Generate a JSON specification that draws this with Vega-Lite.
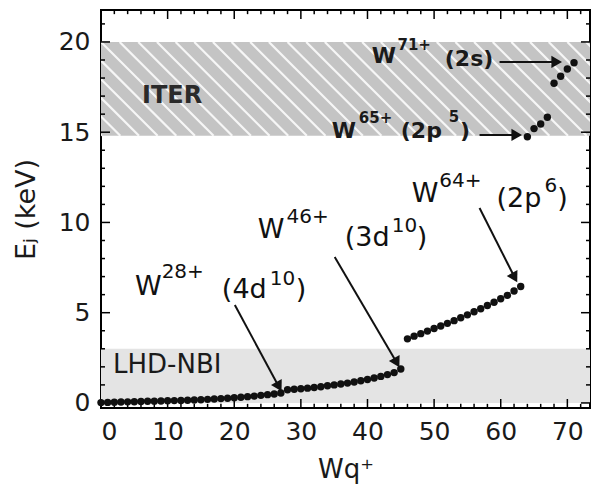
{
  "$schema": "https://vega.github.io/schema/vega-lite/v6.json",
  "width": 489,
  "height": 398,
  "autosize": {"type": "none"},
  "padding": {"left": 101, "top": 10, "right": 3, "bottom": 81},
  "background": "white",
  "config": {
    "view": {"stroke": "black", "strokeWidth": 2}
  },
  "datasets": {
    "bands": [
      {"b": "LHD", "x0": 0, "x1": 73.4, "y0": 0, "y1": 3},
      {"b": "ITER", "x0": 0, "x1": 73.4, "y0": 14.8, "y1": 20}
    ],
    "ticks": [
      {"a": 0, "b": 0, "c": -0.28, "d": 0.22}, {"a": 2, "b": 2, "c": -0.28, "d": -0.05}, {"a": 4, "b": 4, "c": -0.28, "d": -0.05}, {"a": 6, "b": 6, "c": -0.28, "d": -0.05}, {"a": 8, "b": 8, "c": -0.28, "d": -0.05},
      {"a": 10, "b": 10, "c": -0.28, "d": 0.22}, {"a": 12, "b": 12, "c": -0.28, "d": -0.05}, {"a": 14, "b": 14, "c": -0.28, "d": -0.05}, {"a": 16, "b": 16, "c": -0.28, "d": -0.05}, {"a": 18, "b": 18, "c": -0.28, "d": -0.05},
      {"a": 20, "b": 20, "c": -0.28, "d": 0.22}, {"a": 22, "b": 22, "c": -0.28, "d": -0.05}, {"a": 24, "b": 24, "c": -0.28, "d": -0.05}, {"a": 26, "b": 26, "c": -0.28, "d": -0.05}, {"a": 28, "b": 28, "c": -0.28, "d": -0.05},
      {"a": 30, "b": 30, "c": -0.28, "d": 0.22}, {"a": 32, "b": 32, "c": -0.28, "d": -0.05}, {"a": 34, "b": 34, "c": -0.28, "d": -0.05}, {"a": 36, "b": 36, "c": -0.28, "d": -0.05}, {"a": 38, "b": 38, "c": -0.28, "d": -0.05},
      {"a": 40, "b": 40, "c": -0.28, "d": 0.22}, {"a": 42, "b": 42, "c": -0.28, "d": -0.05}, {"a": 44, "b": 44, "c": -0.28, "d": -0.05}, {"a": 46, "b": 46, "c": -0.28, "d": -0.05}, {"a": 48, "b": 48, "c": -0.28, "d": -0.05},
      {"a": 50, "b": 50, "c": -0.28, "d": 0.22}, {"a": 52, "b": 52, "c": -0.28, "d": -0.05}, {"a": 54, "b": 54, "c": -0.28, "d": -0.05}, {"a": 56, "b": 56, "c": -0.28, "d": -0.05}, {"a": 58, "b": 58, "c": -0.28, "d": -0.05},
      {"a": 60, "b": 60, "c": -0.28, "d": 0.22}, {"a": 62, "b": 62, "c": -0.28, "d": -0.05}, {"a": 64, "b": 64, "c": -0.28, "d": -0.05}, {"a": 66, "b": 66, "c": -0.28, "d": -0.05}, {"a": 68, "b": 68, "c": -0.28, "d": -0.05},
      {"a": 70, "b": 70, "c": -0.28, "d": 0.22}, {"a": 72, "b": 72, "c": -0.28, "d": -0.05},
      {"a": 0, "b": 0, "c": 21.77, "d": 21.27}, {"a": 2, "b": 2, "c": 21.77, "d": 21.54}, {"a": 4, "b": 4, "c": 21.77, "d": 21.54}, {"a": 6, "b": 6, "c": 21.77, "d": 21.54}, {"a": 8, "b": 8, "c": 21.77, "d": 21.54},
      {"a": 10, "b": 10, "c": 21.77, "d": 21.27}, {"a": 12, "b": 12, "c": 21.77, "d": 21.54}, {"a": 14, "b": 14, "c": 21.77, "d": 21.54}, {"a": 16, "b": 16, "c": 21.77, "d": 21.54}, {"a": 18, "b": 18, "c": 21.77, "d": 21.54},
      {"a": 20, "b": 20, "c": 21.77, "d": 21.27}, {"a": 22, "b": 22, "c": 21.77, "d": 21.54}, {"a": 24, "b": 24, "c": 21.77, "d": 21.54}, {"a": 26, "b": 26, "c": 21.77, "d": 21.54}, {"a": 28, "b": 28, "c": 21.77, "d": 21.54},
      {"a": 30, "b": 30, "c": 21.77, "d": 21.27}, {"a": 32, "b": 32, "c": 21.77, "d": 21.54}, {"a": 34, "b": 34, "c": 21.77, "d": 21.54}, {"a": 36, "b": 36, "c": 21.77, "d": 21.54}, {"a": 38, "b": 38, "c": 21.77, "d": 21.54},
      {"a": 40, "b": 40, "c": 21.77, "d": 21.27}, {"a": 42, "b": 42, "c": 21.77, "d": 21.54}, {"a": 44, "b": 44, "c": 21.77, "d": 21.54}, {"a": 46, "b": 46, "c": 21.77, "d": 21.54}, {"a": 48, "b": 48, "c": 21.77, "d": 21.54},
      {"a": 50, "b": 50, "c": 21.77, "d": 21.27}, {"a": 52, "b": 52, "c": 21.77, "d": 21.54}, {"a": 54, "b": 54, "c": 21.77, "d": 21.54}, {"a": 56, "b": 56, "c": 21.77, "d": 21.54}, {"a": 58, "b": 58, "c": 21.77, "d": 21.54},
      {"a": 60, "b": 60, "c": 21.77, "d": 21.27}, {"a": 62, "b": 62, "c": 21.77, "d": 21.54}, {"a": 64, "b": 64, "c": 21.77, "d": 21.54}, {"a": 66, "b": 66, "c": 21.77, "d": 21.54}, {"a": 68, "b": 68, "c": 21.77, "d": 21.54},
      {"a": 70, "b": 70, "c": 21.77, "d": 21.27}, {"a": 72, "b": 72, "c": 21.77, "d": 21.54},
      {"a": 0, "b": 1.35, "c": 0, "d": 0}, {"a": 0, "b": 0.6, "c": 1, "d": 1}, {"a": 0, "b": 0.6, "c": 2, "d": 2}, {"a": 0, "b": 0.6, "c": 3, "d": 3}, {"a": 0, "b": 0.6, "c": 4, "d": 4},
      {"a": 0, "b": 1.35, "c": 5, "d": 5}, {"a": 0, "b": 0.6, "c": 6, "d": 6}, {"a": 0, "b": 0.6, "c": 7, "d": 7}, {"a": 0, "b": 0.6, "c": 8, "d": 8}, {"a": 0, "b": 0.6, "c": 9, "d": 9},
      {"a": 0, "b": 1.35, "c": 10, "d": 10}, {"a": 0, "b": 0.6, "c": 11, "d": 11}, {"a": 0, "b": 0.6, "c": 12, "d": 12}, {"a": 0, "b": 0.6, "c": 13, "d": 13}, {"a": 0, "b": 0.6, "c": 14, "d": 14},
      {"a": 0, "b": 1.35, "c": 15, "d": 15}, {"a": 0, "b": 0.6, "c": 16, "d": 16}, {"a": 0, "b": 0.6, "c": 17, "d": 17}, {"a": 0, "b": 0.6, "c": 18, "d": 18}, {"a": 0, "b": 0.6, "c": 19, "d": 19},
      {"a": 0, "b": 1.35, "c": 20, "d": 20}, {"a": 0, "b": 0.6, "c": 21, "d": 21},
      {"a": 73.4, "b": 72.05, "c": 0, "d": 0}, {"a": 73.4, "b": 72.8, "c": 1, "d": 1}, {"a": 73.4, "b": 72.8, "c": 2, "d": 2}, {"a": 73.4, "b": 72.8, "c": 3, "d": 3}, {"a": 73.4, "b": 72.8, "c": 4, "d": 4},
      {"a": 73.4, "b": 72.05, "c": 5, "d": 5}, {"a": 73.4, "b": 72.8, "c": 6, "d": 6}, {"a": 73.4, "b": 72.8, "c": 7, "d": 7}, {"a": 73.4, "b": 72.8, "c": 8, "d": 8}, {"a": 73.4, "b": 72.8, "c": 9, "d": 9},
      {"a": 73.4, "b": 72.05, "c": 10, "d": 10}, {"a": 73.4, "b": 72.8, "c": 11, "d": 11}, {"a": 73.4, "b": 72.8, "c": 12, "d": 12}, {"a": 73.4, "b": 72.8, "c": 13, "d": 13}, {"a": 73.4, "b": 72.8, "c": 14, "d": 14},
      {"a": 73.4, "b": 72.05, "c": 15, "d": 15}, {"a": 73.4, "b": 72.8, "c": 16, "d": 16}, {"a": 73.4, "b": 72.8, "c": 17, "d": 17}, {"a": 73.4, "b": 72.8, "c": 18, "d": 18}, {"a": 73.4, "b": 72.8, "c": 19, "d": 19},
      {"a": 73.4, "b": 72.05, "c": 20, "d": 20}, {"a": 73.4, "b": 72.8, "c": 21, "d": 21}
    ],
    "hatch": [
      {"hx": -14, "hx2": 0.1, "hy": 20, "hy2": 14.8},
      {"hx": -11.2, "hx2": 2.9, "hy": 20, "hy2": 14.8},
      {"hx": -8.4, "hx2": 5.7, "hy": 20, "hy2": 14.8},
      {"hx": -5.6, "hx2": 8.5, "hy": 20, "hy2": 14.8},
      {"hx": -2.8, "hx2": 11.3, "hy": 20, "hy2": 14.8},
      {"hx": 0, "hx2": 14.1, "hy": 20, "hy2": 14.8},
      {"hx": 2.8, "hx2": 16.9, "hy": 20, "hy2": 14.8},
      {"hx": 5.6, "hx2": 19.7, "hy": 20, "hy2": 14.8},
      {"hx": 8.4, "hx2": 22.5, "hy": 20, "hy2": 14.8},
      {"hx": 11.2, "hx2": 25.3, "hy": 20, "hy2": 14.8},
      {"hx": 14, "hx2": 28.1, "hy": 20, "hy2": 14.8},
      {"hx": 16.8, "hx2": 30.9, "hy": 20, "hy2": 14.8},
      {"hx": 19.6, "hx2": 33.7, "hy": 20, "hy2": 14.8},
      {"hx": 22.4, "hx2": 36.5, "hy": 20, "hy2": 14.8},
      {"hx": 25.2, "hx2": 39.3, "hy": 20, "hy2": 14.8},
      {"hx": 28, "hx2": 42.1, "hy": 20, "hy2": 14.8},
      {"hx": 30.8, "hx2": 44.9, "hy": 20, "hy2": 14.8},
      {"hx": 33.6, "hx2": 47.7, "hy": 20, "hy2": 14.8},
      {"hx": 36.4, "hx2": 50.5, "hy": 20, "hy2": 14.8},
      {"hx": 39.2, "hx2": 53.3, "hy": 20, "hy2": 14.8},
      {"hx": 42, "hx2": 56.1, "hy": 20, "hy2": 14.8},
      {"hx": 44.8, "hx2": 58.9, "hy": 20, "hy2": 14.8},
      {"hx": 47.6, "hx2": 61.7, "hy": 20, "hy2": 14.8},
      {"hx": 50.4, "hx2": 64.5, "hy": 20, "hy2": 14.8},
      {"hx": 53.2, "hx2": 67.3, "hy": 20, "hy2": 14.8},
      {"hx": 56, "hx2": 70.1, "hy": 20, "hy2": 14.8},
      {"hx": 58.8, "hx2": 72.9, "hy": 20, "hy2": 14.8},
      {"hx": 61.6, "hx2": 75.7, "hy": 20, "hy2": 14.8},
      {"hx": 64.4, "hx2": 78.5, "hy": 20, "hy2": 14.8},
      {"hx": 67.2, "hx2": 81.3, "hy": 20, "hy2": 14.8},
      {"hx": 70, "hx2": 84.1, "hy": 20, "hy2": 14.8},
      {"hx": 72.8, "hx2": 86.9, "hy": 20, "hy2": 14.8}
    ],
    "points": [
      {"q": 0, "e": 0.02}, {"q": 1, "e": 0.03}, {"q": 2, "e": 0.04}, {"q": 3, "e": 0.05},
      {"q": 4, "e": 0.06}, {"q": 5, "e": 0.07}, {"q": 6, "e": 0.08}, {"q": 7, "e": 0.09},
      {"q": 8, "e": 0.1}, {"q": 9, "e": 0.11}, {"q": 10, "e": 0.12}, {"q": 11, "e": 0.13},
      {"q": 12, "e": 0.14}, {"q": 13, "e": 0.15}, {"q": 14, "e": 0.16}, {"q": 15, "e": 0.18},
      {"q": 16, "e": 0.2}, {"q": 17, "e": 0.22}, {"q": 18, "e": 0.24}, {"q": 19, "e": 0.26},
      {"q": 20, "e": 0.29}, {"q": 21, "e": 0.32}, {"q": 22, "e": 0.35}, {"q": 23, "e": 0.38},
      {"q": 24, "e": 0.42}, {"q": 25, "e": 0.46}, {"q": 26, "e": 0.5}, {"q": 27, "e": 0.55},
      {"q": 28, "e": 0.73}, {"q": 29, "e": 0.76}, {"q": 30, "e": 0.79}, {"q": 31, "e": 0.82},
      {"q": 32, "e": 0.86}, {"q": 33, "e": 0.9}, {"q": 34, "e": 0.95}, {"q": 35, "e": 1.0},
      {"q": 36, "e": 1.05}, {"q": 37, "e": 1.1}, {"q": 38, "e": 1.16}, {"q": 39, "e": 1.23},
      {"q": 40, "e": 1.3}, {"q": 41, "e": 1.38}, {"q": 42, "e": 1.47}, {"q": 43, "e": 1.57},
      {"q": 44, "e": 1.68}, {"q": 45, "e": 1.88},
      {"q": 46, "e": 3.55}, {"q": 47, "e": 3.7}, {"q": 48, "e": 3.84}, {"q": 49, "e": 3.98},
      {"q": 50, "e": 4.12}, {"q": 51, "e": 4.26}, {"q": 52, "e": 4.41}, {"q": 53, "e": 4.56},
      {"q": 54, "e": 4.72}, {"q": 55, "e": 4.88}, {"q": 56, "e": 5.05}, {"q": 57, "e": 5.22},
      {"q": 58, "e": 5.4}, {"q": 59, "e": 5.58}, {"q": 60, "e": 5.77}, {"q": 61, "e": 5.96},
      {"q": 62, "e": 6.2}, {"q": 63, "e": 6.45},
      {"q": 64, "e": 14.75}, {"q": 65, "e": 15.2}, {"q": 66, "e": 15.45}, {"q": 67, "e": 15.83},
      {"q": 68, "e": 17.71}, {"q": 69, "e": 18.1}, {"q": 70, "e": 18.5}, {"q": 71, "e": 18.85}
    ],
    "arrows": [
      {"a": "W71", "x1": 59.82, "y1": 18.89, "x2": 68.6, "y2": 18.89},
      {"a": "W65", "x1": 56.82, "y1": 14.85, "x2": 62.6, "y2": 14.85},
      {"a": "W64", "x1": 56.82, "y1": 10.8, "x2": 62.3, "y2": 6.8},
      {"a": "W46", "x1": 35.08, "y1": 8.09, "x2": 44.6, "y2": 2.1},
      {"a": "W28", "x1": 20.09, "y1": 5.43, "x2": 26.9, "y2": 0.76}
    ],
    "heads": [
      {"d": "h", "q": 68.4, "e": 18.89},
      {"d": "h", "q": 62.4, "e": 14.85},
      {"d": "d", "q": 62.09, "e": 6.94},
      {"d": "d", "q": 44.4, "e": 2.23},
      {"d": "d", "q": 26.71, "e": 0.9}
    ],
    "labels": [
      {"g": "b", "q": 5.1, "e": 5.98, "t": "W"},
      {"g": "b", "q": 18.14, "e": 5.8, "t": "(4d"},
      {"g": "b", "q": 29.24, "e": 5.8, "t": ")"},
      {"g": "b", "q": 23.54, "e": 9.14, "t": "W"},
      {"g": "b", "q": 36.58, "e": 8.7, "t": "(3d"},
      {"g": "b", "q": 47.38, "e": 8.7, "t": ")"},
      {"g": "b", "q": 46.63, "e": 11.14, "t": "W"},
      {"g": "b", "q": 59.37, "e": 10.86, "t": "(2p"},
      {"g": "b", "q": 68.5, "e": 10.86, "t": ")"},
      {"g": "s", "q": 9.1, "e": 6.93, "t": "28+"},
      {"g": "s", "q": 25.34, "e": 6.54, "t": "10"},
      {"g": "s", "q": 27.84, "e": 9.97, "t": "46+"},
      {"g": "s", "q": 43.63, "e": 9.47, "t": "10"},
      {"g": "s", "q": 50.77, "e": 11.97, "t": "64+"},
      {"g": "s", "q": 66.57, "e": 11.69, "t": "6"},
      {"g": "B", "q": 40.63, "e": 18.84, "t": "W"},
      {"g": "B", "q": 51.6, "e": 18.67, "t": "(2s)"},
      {"g": "B", "q": 34.63, "e": 14.68, "t": "W"},
      {"g": "B", "q": 45.0, "e": 14.68, "t": "(2p"},
      {"g": "B", "q": 53.9, "e": 14.68, "t": ")"},
      {"g": "S", "q": 44.5, "e": 19.56, "t": "71+"},
      {"g": "S", "q": 38.7, "e": 15.51, "t": "65+"},
      {"g": "S", "q": 52.2, "e": 15.57, "t": "5"},
      {"g": "I", "q": 6.15, "e": 16.62, "t": "ITER"},
      {"g": "L", "q": 1.8, "e": 1.66, "t": "LHD-NBI"}
    ]
  },
  "layer": [
    {
      "data": {"name": "bands"},
      "transform": [{"filter": "datum.b == 'LHD'"}],
      "mark": {"type": "rect", "color": "#e4e4e4"},
      "encoding": {
        "x": {"field": "x0", "type": "quantitative",
              "scale": {"domain": [0, 73.4], "nice": false, "zero": false},
              "axis": {"orient": "bottom", "values": [0, 10, 20, 30, 40, 50, 60, 70],
                       "ticks": false, "domain": false, "grid": false,
                       "labelPadding": 11, "labelFont": "DejaVu Sans", "labelFontSize": 25, "labelColor": "#1a1a1a",
                       "title": "Wq⁺", "titleFont": "DejaVu Sans", "titleFontSize": 26, "titleFontWeight": "normal", "titleColor": "#1a1a1a", "titlePadding": 12}},
        "x2": {"field": "x1"},
        "y": {"field": "y0", "type": "quantitative",
              "scale": {"domain": [-0.28, 21.77], "nice": false, "zero": false},
              "axis": {"orient": "left", "values": [0, 5, 10, 15, 20],
                       "ticks": false, "domain": false, "grid": false,
                       "labelPadding": 11, "labelFont": "DejaVu Sans", "labelFontSize": 25, "labelColor": "#1a1a1a",
                       "title": "Eⱼ (keV)", "titleFont": "DejaVu Sans", "titleFontSize": 27, "titleFontWeight": "normal", "titleColor": "#1a1a1a", "titlePadding": 18}},
        "y2": {"field": "y1"}
      }
    },
    {
      "data": {"name": "bands"},
      "transform": [{"filter": "datum.b == 'ITER'"}],
      "mark": {"type": "rect", "color": "#c4c4c4"},
      "encoding": {
        "x": {"field": "x0", "type": "quantitative"},
        "x2": {"field": "x1"},
        "y": {"field": "y0", "type": "quantitative"},
        "y2": {"field": "y1"}
      }
    },
    {
      "data": {"name": "hatch"},
      "mark": {"type": "rule", "clip": true, "color": "white", "strokeWidth": 2.2, "opacity": 0.85},
      "encoding": {
        "x": {"field": "hx", "type": "quantitative"},
        "x2": {"field": "hx2"},
        "y": {"field": "hy", "type": "quantitative"},
        "y2": {"field": "hy2"}
      }
    },
    {
      "data": {"name": "ticks"},
      "mark": {"type": "rule", "color": "black", "strokeWidth": 1.5},
      "encoding": {
        "x": {"field": "a", "type": "quantitative"},
        "x2": {"field": "b"},
        "y": {"field": "c", "type": "quantitative"},
        "y2": {"field": "d"}
      }
    },
    {
      "data": {"name": "points"},
      "mark": {"type": "circle", "size": 55, "color": "#111", "opacity": 1},
      "encoding": {
        "x": {"field": "q", "type": "quantitative"},
        "y": {"field": "e", "type": "quantitative"}
      }
    },
    {
      "data": {"name": "arrows"},
      "mark": {"type": "rule", "color": "#111", "strokeWidth": 2},
      "encoding": {
        "x": {"field": "x1", "type": "quantitative"},
        "x2": {"field": "x2"},
        "y": {"field": "y1", "type": "quantitative"},
        "y2": {"field": "y2"}
      }
    },
    {
      "data": {"name": "heads"},
      "transform": [{"filter": "datum.d == 'h'"}],
      "mark": {"type": "point", "shape": "triangle-right", "filled": true, "size": 150, "color": "#111", "opacity": 1},
      "encoding": {
        "x": {"field": "q", "type": "quantitative"},
        "y": {"field": "e", "type": "quantitative"}
      }
    },
    {
      "data": {"name": "heads"},
      "transform": [{"filter": "datum.d == 'd'"}],
      "mark": {"type": "point", "shape": "triangle-down", "angle": 331, "filled": true, "size": 150, "color": "#111", "opacity": 1},
      "encoding": {
        "x": {"field": "q", "type": "quantitative"},
        "y": {"field": "e", "type": "quantitative"}
      }
    },
    {
      "data": {"name": "labels"},
      "transform": [{"filter": "datum.g == 'b'"}],
      "mark": {"type": "text", "font": "DejaVu Sans", "fontSize": 27, "align": "left", "baseline": "alphabetic", "color": "#111"},
      "encoding": {
        "x": {"field": "q", "type": "quantitative"},
        "y": {"field": "e", "type": "quantitative"},
        "text": {"field": "t"}
      }
    },
    {
      "data": {"name": "labels"},
      "transform": [{"filter": "datum.g == 's'"}],
      "mark": {"type": "text", "font": "DejaVu Sans", "fontSize": 20, "align": "left", "baseline": "alphabetic", "color": "#111"},
      "encoding": {
        "x": {"field": "q", "type": "quantitative"},
        "y": {"field": "e", "type": "quantitative"},
        "text": {"field": "t"}
      }
    },
    {
      "data": {"name": "labels"},
      "transform": [{"filter": "datum.g == 'B'"}],
      "mark": {"type": "text", "font": "DejaVu Sans", "fontSize": 22, "fontWeight": "bold", "align": "left", "baseline": "alphabetic", "color": "#1a1a1a"},
      "encoding": {
        "x": {"field": "q", "type": "quantitative"},
        "y": {"field": "e", "type": "quantitative"},
        "text": {"field": "t"}
      }
    },
    {
      "data": {"name": "labels"},
      "transform": [{"filter": "datum.g == 'S'"}],
      "mark": {"type": "text", "font": "DejaVu Sans", "fontSize": 15, "fontWeight": "bold", "align": "left", "baseline": "alphabetic", "color": "#1a1a1a"},
      "encoding": {
        "x": {"field": "q", "type": "quantitative"},
        "y": {"field": "e", "type": "quantitative"},
        "text": {"field": "t"}
      }
    },
    {
      "data": {"name": "labels"},
      "transform": [{"filter": "datum.g == 'I'"}],
      "mark": {"type": "text", "font": "DejaVu Sans", "fontSize": 24, "fontWeight": "bold", "align": "left", "baseline": "alphabetic", "color": "#2a2a2a"},
      "encoding": {
        "x": {"field": "q", "type": "quantitative"},
        "y": {"field": "e", "type": "quantitative"},
        "text": {"field": "t"}
      }
    },
    {
      "data": {"name": "labels"},
      "transform": [{"filter": "datum.g == 'L'"}],
      "mark": {"type": "text", "font": "DejaVu Sans", "fontSize": 26, "align": "left", "baseline": "alphabetic", "color": "#1a1a1a"},
      "encoding": {
        "x": {"field": "q", "type": "quantitative"},
        "y": {"field": "e", "type": "quantitative"},
        "text": {"field": "t"}
      }
    }
  ]
}
